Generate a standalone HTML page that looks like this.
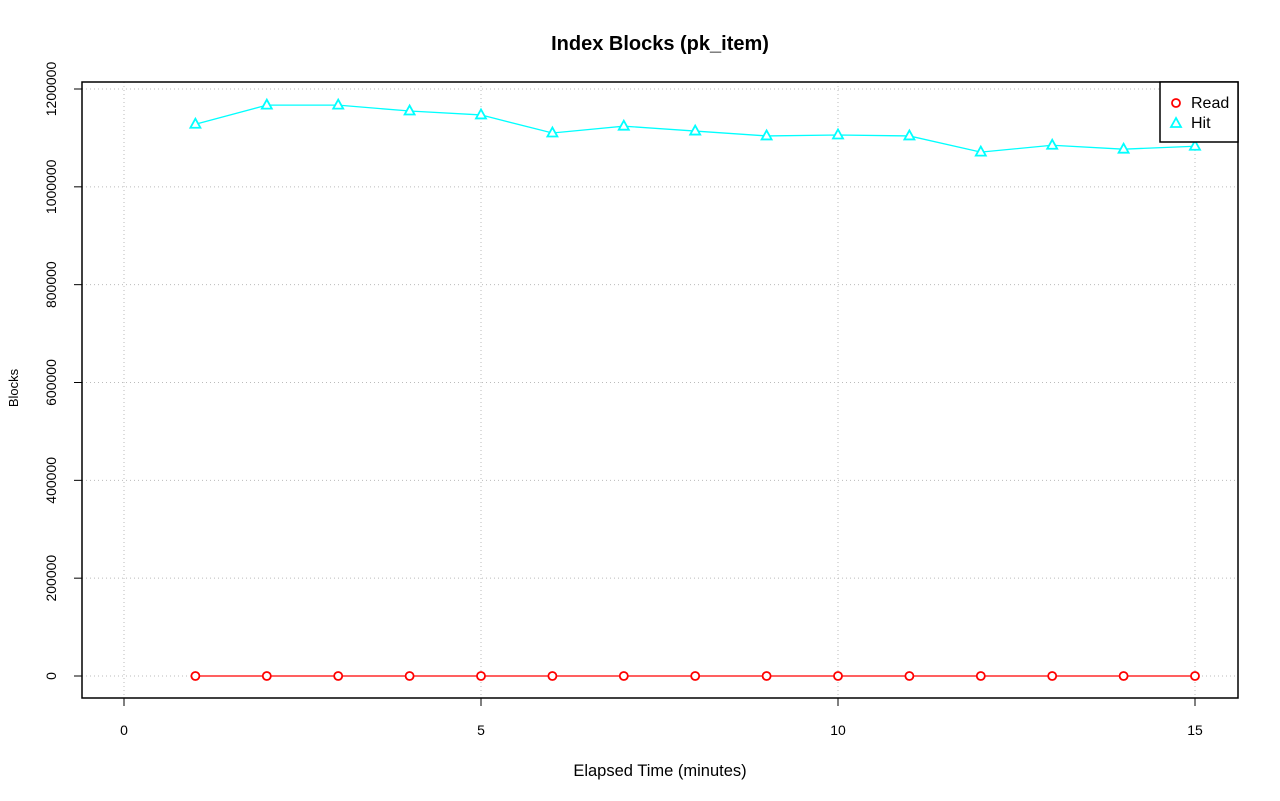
<!DOCTYPE html>
<html><head><meta charset="utf-8"><style>
body{margin:0;background:#fff;}
svg{display:block;font-family:"Liberation Sans",sans-serif;}
</style></head><body>
<svg id="chart" width="1280" height="801">
<text x="660" y="50" text-anchor="middle" font-size="20" font-weight="bold">Index Blocks (pk_item)</text>
<text x="660" y="776" text-anchor="middle" font-size="16.5">Elapsed Time (minutes)</text>
<text transform="translate(18,388) rotate(-90)" text-anchor="middle" font-size="13">Blocks</text>
<g id="grid"></g><g id="axes"></g><g id="series"></g>
<rect x="82" y="82" width="1156" height="616" fill="none" stroke="#000" stroke-width="1.5"/>
<g>
<rect x="1160" y="82" width="78" height="60" fill="#fff" stroke="#000" stroke-width="1.5"/>
<circle cx="1176" cy="103" r="4" fill="none" stroke="red" stroke-width="1.8"/>
<text x="1191" y="108" font-size="16">Read</text>
<polygon points="1176,118 1171,127 1181,127" fill="none" stroke="cyan" stroke-width="1.8"/>
<text x="1191" y="128" font-size="16">Hit</text>
</g>
</svg>
<script>
const minutes=[1,2,3,4,5,6,7,8,9,10,11,12,13,14,15];
const readValues=[0,0,0,0,0,0,0,0,0,0,0,0,0,0,0];
const hitValues=[1128000,1167000,1167000,1155000,1147000,1110000,1124000,1114000,1104000,1106000,1104000,1071000,1085000,1077000,1083000];
const xTicks=[0,5,10,15];
const yTicks=[0,200000,400000,600000,800000,1000000,1200000];
const NS="http://www.w3.org/2000/svg";
const X=v=>124+v*(1195-124)/15;
const Y=v=>676-v*(676-89)/1200000;
function mk(t,a,p){const e=document.createElementNS(NS,t);for(const k in a)e.setAttribute(k,a[k]);p.appendChild(e);return e;}
const grid=document.getElementById('grid'),axes=document.getElementById('axes'),ser=document.getElementById('series');
xTicks.forEach(t=>{
 const g=mk('line',{x1:X(t),x2:X(t),y1:82,y2:698,stroke:'#bbb','stroke-dasharray':'1,3'},grid);
 
 
 const tk=mk('line',{x1:X(t),x2:X(t),y1:698,y2:706,stroke:'#000'},axes);
 
 
 const tx=mk('text',{x:X(t),y:735,'text-anchor':'middle','font-size':'14'},axes);tx.textContent=t;
 
 
});
yTicks.forEach(t=>{
 const g=mk('line',{x1:82,x2:1238,y1:Y(t),y2:Y(t),stroke:'#bbb','stroke-dasharray':'1,3'},grid);
 
 
 const tk=mk('line',{x1:74,x2:82,y1:Y(t),y2:Y(t),stroke:'#000'},axes);
 
 
 const tx=mk('text',{transform:`translate(56,${Y(t)}) rotate(-90)`,'text-anchor':'middle','font-size':'14'},axes);tx.textContent=t;
 
 
});
function series(vals,color,shape,name){
 const pl=mk('polyline',{points:vals.map((v,i)=>X(minutes[i])+','+Y(v)).join(' '),fill:'none',stroke:color,'stroke-width':'1.3'},ser);
 
 
 vals.forEach((v,i)=>{
  const x=X(minutes[i]),y=Y(v);let m;
  if(shape==='c'){m=mk('circle',{cx:x,cy:y,r:4,fill:'#fff',stroke:color,'stroke-width':'1.8'},ser);}
  else{m=mk('polygon',{points:`${x},${y-5.5} ${x-5},${y+3.5} ${x+5},${y+3.5}`,fill:'#fff',stroke:color,'stroke-width':'1.8'},ser);}
  
  
 });
}
series(readValues,'red','c','read');
series(hitValues,'cyan','t','hit');
</script>
</body></html>
